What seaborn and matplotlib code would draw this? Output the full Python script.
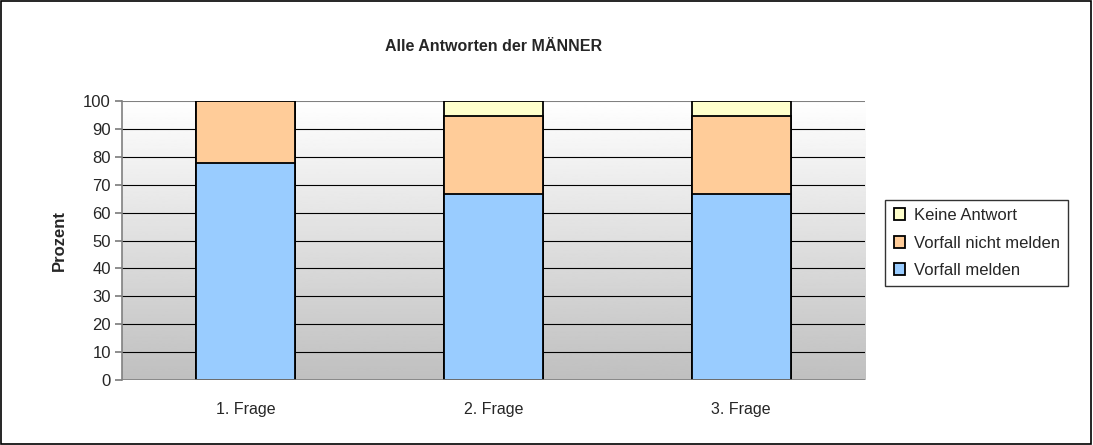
import matplotlib
matplotlib.use("Agg")
import matplotlib.pyplot as plt
import numpy as np
import pandas as pd
import seaborn as sns
from matplotlib.patches import Rectangle

# data (percent)
fragen = ["1. Frage", "2. Frage", "3. Frage"]
vorfall_melden = [77.8, 66.7, 66.7]
vorfall_nicht_melden = [22.2, 27.8, 27.8]
keine_antwort = [0.0, 5.5, 5.5]

series = ["Vorfall melden", "Vorfall nicht melden", "Keine Antwort"]
colors = ["#99CCFF", "#FFCC99", "#FFFFCC"]

sns.set_theme(style="white")
plt.rcParams["font.family"] = ["Liberation Sans", "DejaVu Sans"]

df = pd.DataFrame({"Frage": fragen,
                   "Vorfall melden": vorfall_melden,
                   "Vorfall nicht melden": vorfall_nicht_melden,
                   "Keine Antwort": keine_antwort})
cum = df[series].cumsum(axis=1)

fig = plt.figure(figsize=(10.93, 4.45), dpi=100)
ax = fig.add_axes([0.1116, 0.146, 0.6798, 0.627])

# gradient plot area, white at top to grey at bottom
grad = np.linspace(0.75, 1.0, 256).reshape(-1, 1)
ax.imshow(grad, cmap="gray", vmin=0, vmax=1, origin="lower", aspect="auto",
          extent=[-0.5, 2.5, 0, 100], zorder=0)

# stacked bars: draw cumulative totals from the top layer down
for name, col in reversed(list(zip(series, colors))):
    sns.barplot(x=df["Frage"], y=cum[name], color=col, width=0.4,
                saturation=1, edgecolor="black", linewidth=1.3, ax=ax,
                zorder=3, label=name, legend=False)

ax.set_xlim(-0.5, 2.5)
ax.set_ylim(0, 100)
ax.set_yticks(range(0, 101, 10))
for y in range(10, 100, 10):
    ax.axhline(y, color="black", linewidth=0.8, zorder=1)
ax.axhline(100, color="#808080", linewidth=1.5, zorder=1)

for s in ["top", "right", "bottom"]:
    ax.spines[s].set_visible(False)
ax.spines["left"].set_color("#808080")
ax.spines["left"].set_linewidth(1.2)
ax.axhline(0, color="#808080", linewidth=1.2, zorder=4)
ax.tick_params(axis="y", left=True, length=5, color="#808080", labelsize=12, pad=3)
ax.tick_params(axis="x", bottom=False, labelsize=11.5, pad=10)
ax.set_xlabel("")
ax.set_ylabel("Prozent", fontsize=12, fontweight="bold", labelpad=12)

ax.set_title("Alle Antworten der MÄNNER", fontsize=11.5, fontweight="bold",
             pad=0, y=1.0 + 50 / 279)

handles, labels = ax.get_legend_handles_labels()
if ax.get_legend() is not None:
    ax.get_legend().remove()
leg = fig.legend(handles, labels, loc="center left",
                 bbox_to_anchor=(877 / 1093, 1 - 243 / 445), fontsize=12,
                 frameon=True, fancybox=False, edgecolor="black",
                 handlelength=0.7, handleheight=0.7, handletextpad=0.5,
                 labelspacing=0.75, borderpad=0.5)
leg.get_frame().set_linewidth(1.0)

fig.patches.append(Rectangle((0.001, 0.002), 0.997, 0.995, transform=fig.transFigure,
                             fill=False, edgecolor="black", linewidth=1.2))

fig.savefig("out.png", dpi=100)
